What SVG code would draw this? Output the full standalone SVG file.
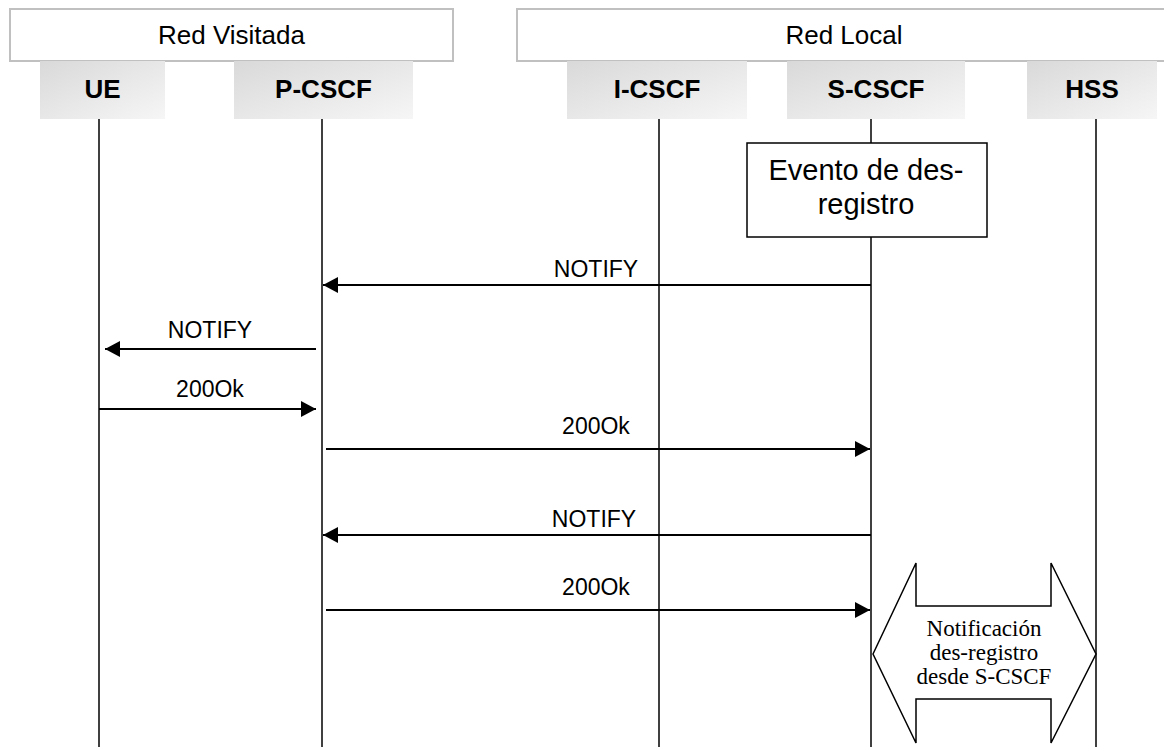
<svg xmlns="http://www.w3.org/2000/svg" width="1164" height="747" viewBox="0 0 1164 747">
<defs>
<linearGradient id="g" x1="0" y1="0" x2="1" y2="1">
<stop offset="0" stop-color="#d9d9d9"/>
<stop offset="1" stop-color="#f6f6f6"/>
</linearGradient>
<marker id="ah" viewBox="0 0 15 16" refX="15" refY="8" markerWidth="15" markerHeight="16" markerUnits="userSpaceOnUse" orient="auto">
<path d="M0,0 L15,8 L0,16 Z" fill="#000"/>
</marker>
</defs>
<style>
.hdr{fill:#fff;stroke:#c0c0c0;stroke-width:2}
.nm{fill:url(#g)}
.t{font-family:"Liberation Sans",Arial,sans-serif;fill:#000;text-anchor:middle}
.h{font-size:26px}
.b{font-size:26px;font-weight:bold}
.m{font-size:23px}
.life{stroke:#000;stroke-width:1.5}
.msg{stroke:#000;stroke-width:2;fill:none;marker-end:url(#ah)}
.tm{font-family:"Liberation Serif","Times New Roman",serif;font-size:23px;text-anchor:middle;fill:#000}
</style>
<g id="red-visitada"><rect class="hdr" x="10" y="9" width="443" height="52"/><text class="t h" x="231.5" y="44">Red Visitada</text></g>
<g id="red-local"><rect class="hdr" x="517" y="9" width="654" height="52"/><text class="t h" x="844" y="44">Red Local</text></g>
<g id="lifelines">
<line class="life" x1="99" y1="119" x2="99" y2="747"/>
<line class="life" x1="322" y1="119" x2="322" y2="747"/>
<line class="life" x1="659" y1="119" x2="659" y2="747"/>
<line class="life" x1="871" y1="119" x2="871" y2="747"/>
<line class="life" x1="1096" y1="119" x2="1096" y2="747"/>
</g>
<g id="ue"><rect class="nm" x="40" y="61" width="125" height="58"/><text class="t b" x="102.5" y="98">UE</text></g>
<g id="pcscf"><rect class="nm" x="234" y="61" width="179" height="58"/><text class="t b" x="323.5" y="98">P-CSCF</text></g>
<g id="icscf"><rect class="nm" x="567" y="61" width="180" height="58"/><text class="t b" x="657" y="98">I-CSCF</text></g>
<g id="scscf"><rect class="nm" x="787" y="61" width="178" height="58"/><text class="t b" x="876" y="98">S-CSCF</text></g>
<g id="hss"><rect class="nm" x="1027" y="61" width="130" height="58"/><text class="t b" x="1092" y="98">HSS</text></g>
<g id="evento"><rect x="747" y="143" width="240" height="94" fill="#fff" stroke="#000" stroke-width="1.5"/>
<text class="t" font-size="29" x="866" y="180">Evento de des-</text>
<text class="t" font-size="29" x="866" y="214">registro</text></g>
<g id="connectors">
<line class="msg" x1="871" y1="285" x2="323" y2="285"/>
<text class="t m" x="596" y="277">NOTIFY</text>
<line class="msg" x1="316" y1="349" x2="105" y2="349"/>
<text class="t m" x="210" y="338">NOTIFY</text>
<line class="msg" x1="99" y1="409" x2="316" y2="409"/>
<text class="t m" x="210" y="397">200Ok</text>
<line class="msg" x1="326" y1="449" x2="870" y2="449"/>
<text class="t m" x="596" y="434">200Ok</text>
<line class="msg" x1="871" y1="535" x2="323" y2="535"/>
<text class="t m" x="594" y="527">NOTIFY</text>
<line class="msg" x1="326" y1="610" x2="870" y2="610"/>
<text class="t m" x="596" y="595">200Ok</text>
</g>
<g id="notificacion">
<polygon points="873,654 916,563 916,606 1051,606 1051,563 1096,654 1051,743 1051,699 916,699 916,743" fill="#fff" stroke="#000" stroke-width="1.5"/>
<text class="tm" x="984" y="636">Notificación</text>
<text class="tm" x="984" y="660">des-registro</text>
<text class="tm" x="984" y="684">desde S-CSCF</text>
</g>
</svg>
